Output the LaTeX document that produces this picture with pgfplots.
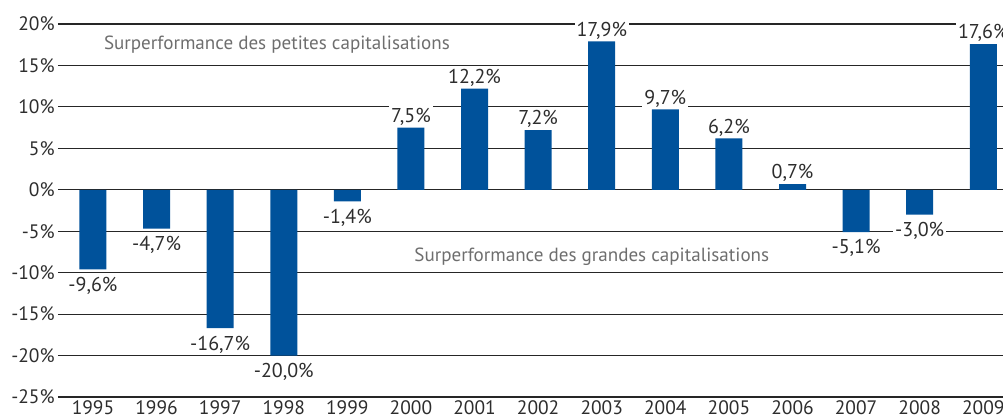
\documentclass[border=0pt]{standalone}
\usepackage{fontspec}
\setmainfont{PT Sans}
\usepackage{pgfplots}
\pgfplotsset{compat=1.18}

\definecolor{barblue}{RGB}{0,82,155}
\definecolor{txt}{RGB}{45,45,45}
\definecolor{note}{RGB}{110,110,110}

\begin{document}
\begin{tikzpicture}
\useasboundingbox (-43.5pt,-16.5pt) rectangle (708.75pt,297.75pt);
\begin{axis}[
    scale only axis,
    width=708.75pt, height=279.75pt,
    ybar, bar width=20.25pt,
    xmin=-0.55, xmax=14.31,
    ymin=-25, ymax=20,
    ytick={-25,-20,...,20},
    xtick={0,...,14},
    xticklabels={1995,1996,1997,1998,1999,2000,2001,2002,2003,2004,2005,2006,2007,2008,2009},
    ymajorgrids,
    grid style={line width=0.8pt, black!85},
    axis line style={draw=none},
    major tick length=0pt,
    tick label style={font=\fontsize{14.6}{17}\selectfont, text=txt},
    /pgf/number format/assume math mode=true,
    yticklabel={\pgfmathprintnumber{\tick}\%},
    yticklabel style={xshift=1pt},
    xticklabel style={yshift=1pt},
    clip=false,
    visualization depends on={rawy \as \rawy},
    nodes near coords={\pgfmathprintnumber[fixed,fixed zerofill,precision=1,use comma]{\pgfplotspointmeta}\%},
    every node near coord/.append style={font=\fontsize{15}{17}\selectfont, text=txt, fill=white, inner sep=1.5pt,
        anchor=\ifdim\rawy pt<0pt north\else south\fi,
        yshift=\ifdim\rawy pt<0pt -4pt\else 0pt\fi},
]
\addplot[fill=barblue, draw=none] coordinates {
    (0,-9.6) (1,-4.7) (2,-16.7) (3,-20.0) (4,-1.4) (5,7.5) (6,12.2) (7,7.2)
    (8,17.9) (9,9.7) (10,6.2) (11,0.7) (12,-5.1) (13,-3.0) (14,17.6)
};
\node[anchor=west, text=note, font=\fontsize{14.3}{16}\selectfont] at (axis cs:0.1,17.5) {Surperformance des petites capitalisations};
\node[anchor=west, text=note, font=\fontsize{14.3}{16}\selectfont] at (axis cs:4.98,-8.1) {Surperformance des grandes capitalisations};
\end{axis}
\end{tikzpicture}
\end{document}
